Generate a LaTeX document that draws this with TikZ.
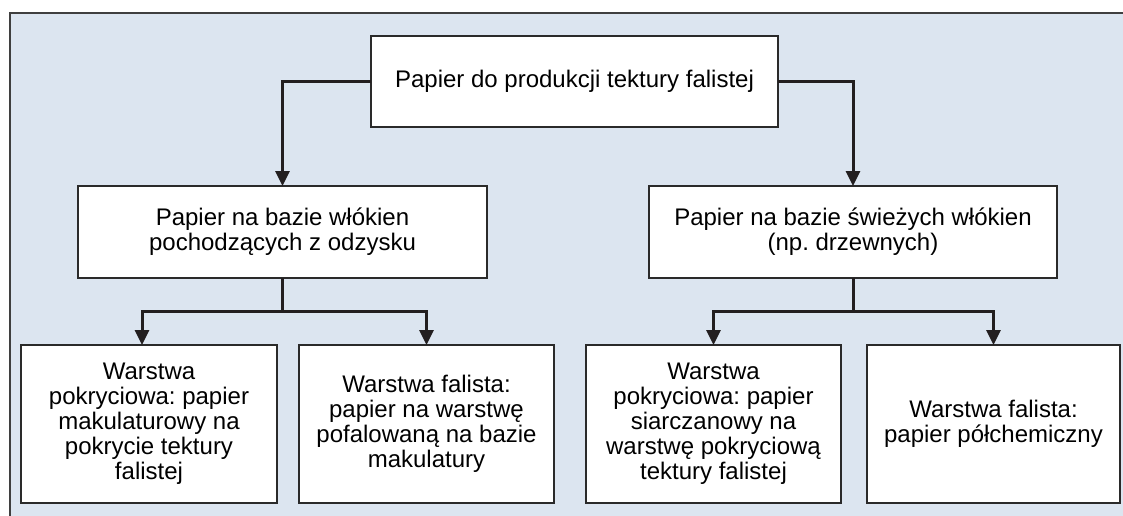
\documentclass[tikz,border=0pt]{standalone}
\usepackage{fontspec}
\setmainfont{Liberation Sans}
\usetikzlibrary{arrows.meta}
\frenchspacing
\definecolor{panelbg}{HTML}{DCE5F0}
\definecolor{boxline}{HTML}{2A2A2A}
\definecolor{connline}{HTML}{231F20}
\tikzset{
  box/.style={draw=boxline, line width=2pt, fill=white, align=center,
    inner sep=0pt, outer sep=0pt,
    font=\fontsize{24}{25}\selectfont},
  conn/.style={draw=connline, line width=3pt, line join=miter},
  tip/.style={-{Triangle[length=15pt,width=14pt]}},
  tips/.style={{Triangle[length=15pt,width=14pt]}-{Triangle[length=15pt,width=14pt]}}
}
\begin{document}
\begin{tikzpicture}[x=1pt,y=-1pt]
\useasboundingbox (0,0) rectangle (1123,516);
\fill[panelbg] (10,13) rectangle (1123,516);
\draw[line width=2pt, draw=boxline!90] (10,516) -- (10,13) -- (1123,13);

\node[box, minimum width=407pt, minimum height=91pt] (top) at (574.5,81.5)
  {Papier do produkcji tektury falistej};
\node[box, minimum width=409pt, minimum height=92pt] (ml) at (282.5,232)
  {Papier na bazie włókien\\pochodzących z odzysku};
\node[box, minimum width=408pt, minimum height=92pt] (mr) at (853,232)
  {Papier na bazie świeżych włókien\\(np. drzewnych)};
\node[box, minimum width=256pt, minimum height=158pt] (b1) at (149,424)
  {Warstwa\\pokryciowa: papier\\makulaturowy na\\pokrycie tektury\\falistej};
\node[box, minimum width=255pt, minimum height=158pt] (b2) at (426.5,424)
  {Warstwa falista:\\papier na warstwę\\pofalowaną na bazie\\makulatury};
\node[box, minimum width=255pt, minimum height=158pt] (b3) at (713.5,424)
  {Warstwa\\pokryciowa: papier\\siarczanowy na\\warstwę pokryciową\\tektury falistej};
\node[box, minimum width=253pt, minimum height=158pt] (b4) at (993.5,424)
  {Warstwa falista:\\papier półchemiczny};

\coordinate (jl) at (282.5,311);
\coordinate (jr) at (853,311);

\draw[conn, tip] (top.west) -| (ml.north);
\draw[conn, tip] (top.east) -| (mr.north);
\draw[conn] (ml.south) -- (jl);
\draw[conn] (mr.south) -- (jr);
\draw[conn, tips] ([xshift=-7pt]b1.north) |- (jl) -| (b2.north);
\draw[conn, tips] (b3.north) |- (jr) -| (b4.north);
\end{tikzpicture}
\end{document}
